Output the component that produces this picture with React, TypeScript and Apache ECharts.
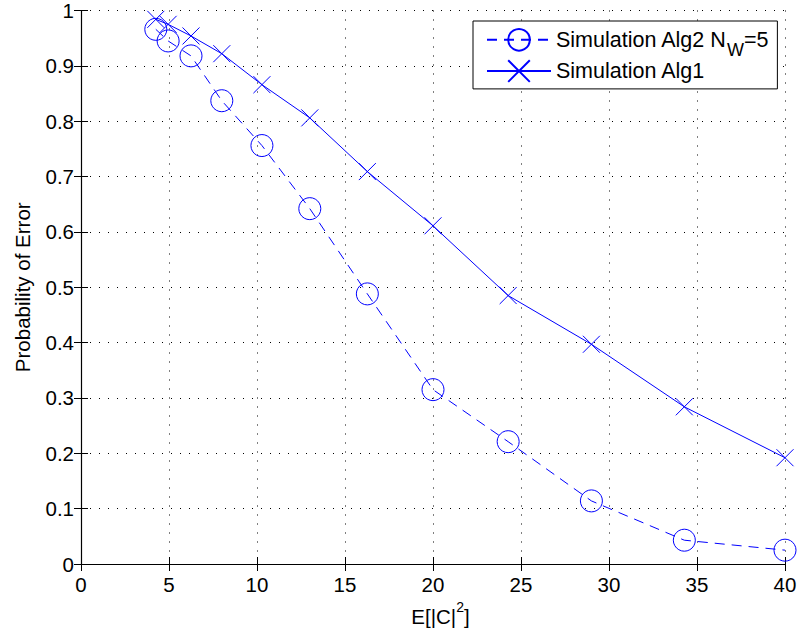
import React, { useEffect, useRef } from "react";
import * as echarts from "echarts";

const xValues = [4.25, 4.95, 6.25, 8.0, 10.28, 13.0, 16.27, 20.0, 24.27, 29.0, 34.28, 40.0];
const alg2Values = [0.966, 0.945, 0.918, 0.837, 0.756, 0.642, 0.488, 0.315, 0.221, 0.114, 0.043, 0.025];
const alg1Values = [0.984, 0.975, 0.954, 0.922, 0.866, 0.806, 0.709, 0.611, 0.485, 0.397, 0.284, 0.192];
const seriesNames = ["Simulation Alg2 N_W=5", "Simulation Alg1"];
const xAxisName = "E[|C|^2]";
const yAxisName = "Probability of Error";

const FONT = "'Liberation Sans', Arial, Helvetica, sans-serif";
const FS = 20.5;
const LFS = 21.5;
const BLUE = "#0000ff";

function toRich(s: string): string {
  // a_b -> subscript, a^b -> superscript (single char)
  let out = "";
  let buf = "";
  for (let i = 0; i < s.length; i++) {
    const c = s[i];
    if ((c === "_" || c === "^") && i + 1 < s.length) {
      if (buf) out += `{a|${buf}}`;
      buf = "";
      out += `{${c === "_" ? "sub" : "sup"}|${s[i + 1]}}`;
      i++;
    } else {
      buf += c;
    }
  }
  if (buf) out += `{a|${buf}}`;
  return out;
}

export default function App() {
  const ref = useRef<HTMLDivElement>(null);
  useEffect(() => {
    if (!ref.current) return;
    const chart = echarts.init(ref.current, null, { renderer: "svg" });
    const pair = (ys: number[]) => xValues.map((x, i) => [x, ys[i]]);
    const tickStyle = { inside: true, length: 7, lineStyle: { color: "#000", width: 1 } };
    const axisLineStyle = { show: true, lineStyle: { color: "#000", width: 1.1 } };
    const gridLine = { show: true, lineStyle: { color: "#000", width: 1, type: [1, 8] as number[] } };
    chart.setOption({
      animation: false,
      backgroundColor: "#fff",
      textStyle: { fontFamily: FONT },
      grid: { left: 81, top: 10, width: 704, height: 554, containLabel: false },
      legend: {
        left: 473,
        top: 21,
        orient: "vertical",
        itemWidth: 64,
        itemHeight: 27,
        itemGap: 0,
        padding: [7, 9, 6, 13],
        borderColor: "#000",
        borderWidth: 1,
        backgroundColor: "#fff",
        data: seriesNames,
        formatter: (name: string) => toRich(name),
        textStyle: {
          fontFamily: FONT,
          fontSize: LFS,
          color: "#000",
          rich: {
            a: { fontSize: LFS, fontFamily: FONT, color: "#000", lineHeight: 39 },
            sub: { fontSize: 18, fontFamily: FONT, color: "#000", verticalAlign: "bottom", lineHeight: 18 },
          },
        },
      },
      xAxis: [
        {
          type: "value",
          min: 0,
          max: 40,
          interval: 5,
          position: "bottom",
          name: toRich(xAxisName),
          nameLocation: "middle",
          nameGap: 31,
          nameTextStyle: {
            padding: [0, 0, 0, 15],
            rich: {
              a: { fontSize: FS, fontFamily: FONT, color: "#000", lineHeight: 34 },
              sup: { fontSize: 14, fontFamily: FONT, color: "#000", verticalAlign: "top", lineHeight: 14 },
            },
          },
          axisLine: axisLineStyle,
          axisTick: tickStyle,
          axisLabel: { fontSize: FS, color: "#000", margin: 10, fontFamily: FONT },
          splitLine: gridLine,
        },
        {
          type: "value",
          min: 0,
          max: 40,
          interval: 5,
          position: "top",
          axisLine: axisLineStyle,
          axisTick: tickStyle,
          axisLabel: { show: false },
          splitLine: { show: false },
        },
      ],
      yAxis: [
        {
          type: "value",
          min: 0,
          max: 1,
          interval: 0.1,
          position: "left",
          name: yAxisName,
          nameLocation: "middle",
          nameGap: 48,
          nameTextStyle: { fontSize: FS, color: "#000", fontFamily: FONT },
          axisLine: axisLineStyle,
          axisTick: tickStyle,
          axisLabel: { fontSize: FS, color: "#000", margin: 7, fontFamily: FONT },
          splitLine: gridLine,
        },
        {
          type: "value",
          min: 0,
          max: 1,
          interval: 0.1,
          position: "right",
          axisLine: axisLineStyle,
          axisTick: tickStyle,
          axisLabel: { show: false },
          splitLine: { show: false },
        },
      ],
      series: [
        {
          name: seriesNames[0],
          type: "line",
          data: pair(alg2Values),
          symbol: "circle",
          symbolSize: 22,
          showAllSymbol: true,
          lineStyle: { color: BLUE, width: 1, type: [10, 7] },
          itemStyle: { color: "rgba(0,0,0,0)", borderColor: BLUE, borderWidth: 1 },
          emphasis: { disabled: true },
          z: 3,
        },
        {
          name: seriesNames[1],
          type: "line",
          data: pair(alg1Values),
          symbol: "path://M0,0L10,10M10,0L0,10",
          symbolSize: 17,
          showAllSymbol: true,
          lineStyle: { color: BLUE, width: 1 },
          itemStyle: { color: "rgba(0,0,0,0)", borderColor: BLUE, borderWidth: 1 },
          emphasis: { disabled: true },
          z: 3,
        },
      ],
    });
    return () => chart.dispose();
  }, []);
  return <div ref={ref} style={{ position: "fixed", left: 0, top: 0, width: 801, height: 635 }} />;
}
